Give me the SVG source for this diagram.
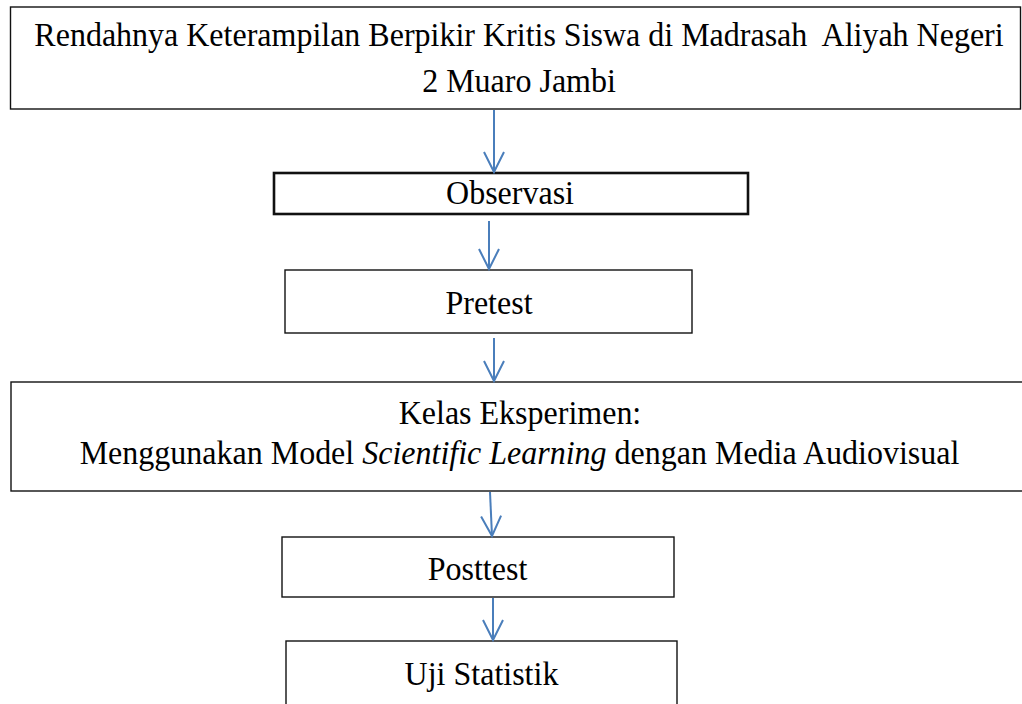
<svg xmlns="http://www.w3.org/2000/svg" width="1022" height="704" viewBox="0 0 1022 704">
<defs>
<style>
.box{fill:#fff;stroke:#111;stroke-width:1.4}
.thick{stroke-width:2.6}
.t{font-family:"Liberation Serif","Times New Roman",serif;font-size:32px;fill:#000;text-anchor:middle;white-space:pre}
.c{fill:none;stroke:#4a7ebb;stroke-width:2}
</style>
<marker id="ah" viewBox="0 0 24 24" markerUnits="userSpaceOnUse" markerWidth="24" markerHeight="24" refX="21" refY="12" orient="auto">
<path d="M1,2 L21,12 L1,22" fill="none" stroke="#4a7ebb" stroke-width="2"/>
</marker>
</defs>
<rect width="1022" height="704" fill="#fff"/>
<g id="n1">
<rect class="box" x="10.5" y="7" width="1010" height="102"/>
<text class="t" transform="translate(519,46) scale(1,1.08)" xml:space="preserve">Rendahnya Keterampilan Berpikir Kritis Siswa di Madrasah  Aliyah Negeri</text>
<text class="t" transform="translate(519,92) scale(1,1.08)">2 Muaro Jambi</text>
</g>
<g id="n2">
<rect class="box thick" x="274" y="173" width="474" height="41"/>
<text class="t" transform="translate(510,204) scale(1,1.08)">Observasi</text>
</g>
<g id="n3">
<rect class="box" x="285" y="270" width="407" height="63"/>
<text class="t" transform="translate(489,314) scale(1,1.08)">Pretest</text>
</g>
<g id="n4">
<rect class="box" x="11" y="382" width="1030" height="109"/>
<text class="t" transform="translate(520,424) scale(1,1.08)">Kelas Eksperimen:</text>
<text class="t" transform="translate(519.5,464) scale(1,1.08)">Menggunakan Model <tspan font-style="italic">Scientific Learning</tspan> dengan Media Audiovisual</text>
</g>
<g id="n5">
<rect class="box" x="282" y="537" width="392" height="60"/>
<text class="t" transform="translate(477.5,580) scale(1,1.08)">Posttest</text>
</g>
<g id="n6">
<rect class="box" x="286" y="641" width="391" height="80"/>
<text class="t" transform="translate(481.5,685) scale(1,1.08)">Uji Statistik</text>
</g>
<g id="connectors">
<path class="c" d="M494,110 L494,172" marker-end="url(#ah)"/>
<path class="c" d="M489,221 L489,269" marker-end="url(#ah)"/>
<path class="c" d="M494,338 L494,381" marker-end="url(#ah)"/>
<path class="c" d="M490,492 L492,536" marker-end="url(#ah)"/>
<path class="c" d="M493,598 L493,640" marker-end="url(#ah)"/>
</g>
</svg>
